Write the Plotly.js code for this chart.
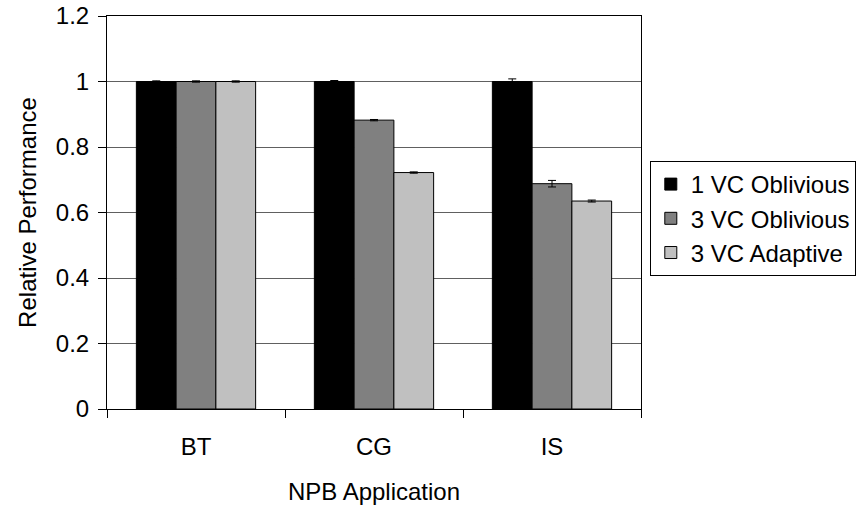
<!DOCTYPE html>
<html>
<head>
<meta charset="utf-8">
<script src="https://cdn.plot.ly/plotly-3.0.1.min.js"></script>
<style>html,body{margin:0;padding:0;background:#fff;}#chart{width:868px;height:508px;}</style>
</head>
<body>
<div id="chart"></div>
<script>
const categories = ["BT", "CG", "IS"];
const seriesNames = ["1 VC Oblivious", "3 VC Oblivious", "3 VC Adaptive"];
const oneVcOblivious = [1.0, 1.0, 1.0];
const oneVcObliviousErr = [0.002, 0.003, 0.008];
const threeVcOblivious = [1.0, 0.882, 0.688];
const threeVcObliviousErr = [0.002, 0.002, 0.01];
const threeVcAdaptive = [1.0, 0.722, 0.635];
const threeVcAdaptiveErr = [0.002, 0.002, 0.003];
const yTicks = [0, 0.2, 0.4, 0.6, 0.8, 1, 1.2];

const colors = ["#000000", "#808080", "#c0c0c0"];
const values = [oneVcOblivious, threeVcOblivious, threeVcAdaptive];
const errs = [oneVcObliviousErr, threeVcObliviousErr, threeVcAdaptiveErr];

const font = "Liberation Sans, Arial, sans-serif";
const traces = values.map((v, i) => ({
  type: "bar",
  name: seriesNames[i],
  x: categories,
  y: v,
  marker: {color: colors[i], line: {color: "#000000", width: 1}},
  error_y: {type: "data", array: errs[i], visible: true, color: "#000000", thickness: 1, width: 4}
}));

const layout = {
  width: 868, height: 508,
  margin: {l: 107, r: 216, t: 16, b: 99},
  paper_bgcolor: "#ffffff",
  plot_bgcolor: "#ffffff",
  font: {family: font, size: 24, color: "#000000"},
  barmode: "group",
  bargap: 0.33,
  bargroupgap: 0,
  showlegend: true,
  legend: {
    x: 1.0165, xanchor: "left", y: 0.631, yanchor: "top",
    bordercolor: "#000000", borderwidth: 1, bgcolor: "#ffffff",
    font: {family: font, size: 24, color: "#000000"},
    traceorder: "normal"
  },
  xaxis: {
    type: "category",
    showline: true, linecolor: "#000000", linewidth: 1, mirror: true,
    ticks: "outside", ticklen: 8, tickcolor: "#000000", tickson: "boundaries",
    showgrid: false, zeroline: false,
    tickfont: {family: font, size: 24},
    ticklabelstandoff: 16,
    title: {text: "NPB Application", font: {family: font, size: 24}, standoff: 24}
  },
  yaxis: {
    range: [0, 1.2],
    tickvals: yTicks,
    ticktext: yTicks.map(String),
    showline: true, linecolor: "#000000", linewidth: 1, mirror: true,
    ticks: "outside", ticklen: 8, tickcolor: "#000000",
    showgrid: true, gridcolor: "#606060", gridwidth: 1,
    zeroline: false,
    tickfont: {family: font, size: 24},
    ticklabelstandoff: 4,
    title: {text: "Relative Performance", font: {family: font, size: 24}, standoff: 12}
  }
};

Plotly.newPlot("chart", traces, layout, {staticPlot: true, displayModeBar: false});
</script>
</body>
</html>
